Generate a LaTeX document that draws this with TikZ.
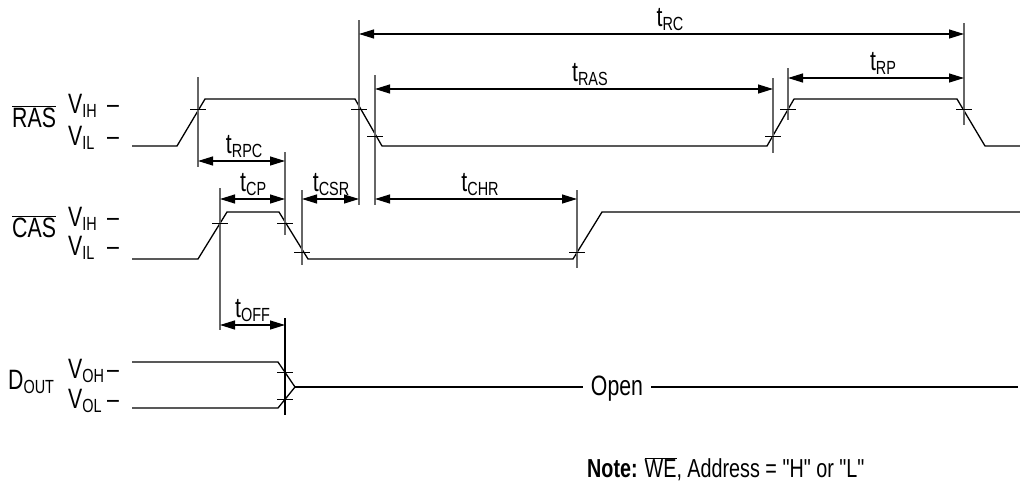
\documentclass[tikz,border=0pt]{standalone}
\usepackage{fontspec}
\setmainfont{Liberation Sans}[FakeStretch=0.76, Ligatures=TeXOff]
\usetikzlibrary{arrows.meta}
\newcommand\lowidx[1]{\raisebox{-4pt}{\fontsize{19}{19}\selectfont #1}}
\newcommand\barsig[1]{$\overline{\mbox{#1}}$}
\tikzstyle{wave} = [
    line width=1.3pt,
    line join=round
]
\tikzstyle{guide} = [
    line width=1.1pt,
    draw=black!60
]
\tikzstyle{timespan} = [
    line width=1.2pt,
    {Triangle[length=15pt,width=9pt]}-{Triangle[length=15pt,width=9pt]}
]
\tikzstyle{levelmark} = [
    line width=0.8pt
]
\tikzstyle{lbl} = [
    inner sep=0pt,
    font=\fontsize{28}{30}\selectfont
]
\tikzstyle{tlabel} = [
    lbl,
    anchor=south,
    inner sep=3pt
]

\begin{document}
\begin{tikzpicture}[x=1pt, y=-1pt]
            \useasboundingbox (0,0) rectangle (1020,485);

            \node[lbl, anchor=base west] (rasName) at (12,127) {\barsig{RAS}};
            \node[lbl, anchor=base west] (rasVih) at (68,113) {\makebox[39pt][l]{V\lowidx{IH}}–};
            \node[lbl, anchor=base west] (rasVil) at (68,145) {\makebox[39pt][l]{V\lowidx{IL}}–};
            \node[lbl, anchor=base west] (casName) at (12,237) {\barsig{CAS}};
            \node[lbl, anchor=base west] (casVih) at (68,226) {\makebox[39pt][l]{V\lowidx{IH}}–};
            \node[lbl, anchor=base west] (casVil) at (68,255) {\makebox[39pt][l]{V\lowidx{IL}}–};
            \node[lbl, anchor=base west] (outName) at (8,389) {D\lowidx{OUT}};
            \node[lbl, anchor=base west] (outVoh) at (68,378) {\makebox[39pt][l]{V\lowidx{OH}}–};
            \node[lbl, anchor=base west] (outVol) at (68,408) {\makebox[39pt][l]{V\lowidx{OL}}–};

            \coordinate (rasRise) at (198,109);
            \coordinate (casRise) at (220,223);
            \coordinate (casFall) at (285,223);
            \coordinate (casLow) at (302,252);
            \coordinate (rasFall) at (359,109);
            \coordinate (rasLow) at (375,136);
            \coordinate (casUp) at (577,252);
            \coordinate (rasUp) at (773,136);
            \coordinate (rasHigh) at (788,109);
            \coordinate (rasEnd) at (964,109);
            \coordinate (outHigh) at (285,372);
            \coordinate (outLow) at (285,399);
            \coordinate (outTip) at (295,387);

            \draw[wave] (132,146) -- (177,146) -- (205,99) -- (355,99) -- (382,146) -- (767,146)
                -- (794,99) -- (957,99) -- (985,146) -- (1020,146);
            \draw[wave] (132,259) -- (198,259) -- (227,212) -- (279,212) -- (308,259) -- (573,259)
                -- (602,212) -- (1020,212);
            \draw[wave] (132,362) -- (278,362) -- (outTip) -- (278,408) -- (132,408);
            \node[lbl, anchor=base, inner xsep=8pt] (open) at (617,395) {Open};
            \draw[wave] (outTip) -- (open.west |- outTip);
            \draw[wave] (open.east |- outTip) -- (1018,387);

            \draw[guide] (rasRise |- 0,77) -- (rasRise |- 0,167);
            \draw[guide] (casRise |- 0,188) -- (casRise |- 0,330);
            \draw[guide] (casFall |- 0,152) -- (casFall |- 0,235);
            \draw[guide] (casLow |- 0,190) -- (casLow |- 0,265);
            \draw[guide] (rasFall |- 0,20) -- (rasFall |- 0,205);
            \draw[guide] (rasLow |- 0,75) -- (rasLow |- 0,205);
            \draw[guide] (casUp |- 0,190) -- (casUp |- 0,268);
            \draw[guide] (rasUp |- 0,78) -- (rasUp |- 0,153);
            \draw[guide] (rasHigh |- 0,68) -- (rasHigh |- 0,120);
            \draw[guide] (rasEnd |- 0,23) -- (rasEnd |- 0,125);
            \draw[guide, draw=black] (outHigh |- 0,318) -- (outLow |- 0,415);

            \draw[levelmark] ([xshift=-8pt]rasRise) -- ([xshift=8pt]rasRise);
            \draw[levelmark] ([xshift=-8pt]casRise) -- ([xshift=8pt]casRise);
            \draw[levelmark] ([xshift=-8pt]casFall) -- ([xshift=8pt]casFall);
            \draw[levelmark] ([xshift=-8pt]casLow) -- ([xshift=8pt]casLow);
            \draw[levelmark] ([xshift=-8pt]rasFall) -- ([xshift=8pt]rasFall);
            \draw[levelmark] ([xshift=-8pt]rasLow) -- ([xshift=8pt]rasLow);
            \draw[levelmark] ([xshift=-8pt]casUp) -- ([xshift=8pt]casUp);
            \draw[levelmark] ([xshift=-8pt]rasUp) -- ([xshift=8pt]rasUp);
            \draw[levelmark] ([xshift=-8pt]rasHigh) -- ([xshift=8pt]rasHigh);
            \draw[levelmark] ([xshift=-8pt]rasEnd) -- ([xshift=8pt]rasEnd);
            \draw[levelmark] ([xshift=-8pt]outHigh) -- ([xshift=8pt]outHigh);
            \draw[levelmark] ([xshift=-8pt]outLow) -- ([xshift=8pt]outLow);

            \draw[timespan] (rasFall |- 0,34) -- (rasEnd |- 0,34) node[tlabel, pos=0.514] (tRC) {t\lowidx{RC}};
            \draw[timespan] (rasLow |- 0,89) -- (rasUp |- 0,89) node[tlabel, pos=0.54] (tRAS) {t\lowidx{RAS}};
            \draw[timespan] (rasHigh |- 0,78) -- (rasEnd |- 0,78) node[tlabel, pos=0.54] (tRP) {t\lowidx{RP}};
            \draw[timespan] (rasRise |- 0,161) -- (casFall |- 0,161) node[tlabel, pos=0.53] (tRPC) {t\lowidx{RPC}};
            \draw[timespan] (casRise |- 0,199) -- (casFall |- 0,199) node[tlabel, pos=0.51] (tCP) {t\lowidx{CP}};
            \draw[timespan] (casLow |- 0,199) -- (rasFall |- 0,199) node[tlabel, pos=0.51] (tCSR) {t\lowidx{CSR}};
            \draw[timespan] (rasLow |- 0,199) -- (casUp |- 0,199) node[tlabel, pos=0.52] (tCHR) {t\lowidx{CHR}};
            \draw[timespan] (casRise |- 0,325) -- (outHigh |- 0,325) node[tlabel, pos=0.5] (tOFF) {t\lowidx{OFF}};

            \node[lbl, anchor=base west, font=\fontsize{26}{28}\selectfont] (note) at (587,477)
                {\textbf{Note:}\hspace{7pt}\barsig{WE}, Address = "H" or "L"};
        \end{tikzpicture}
\end{document}
